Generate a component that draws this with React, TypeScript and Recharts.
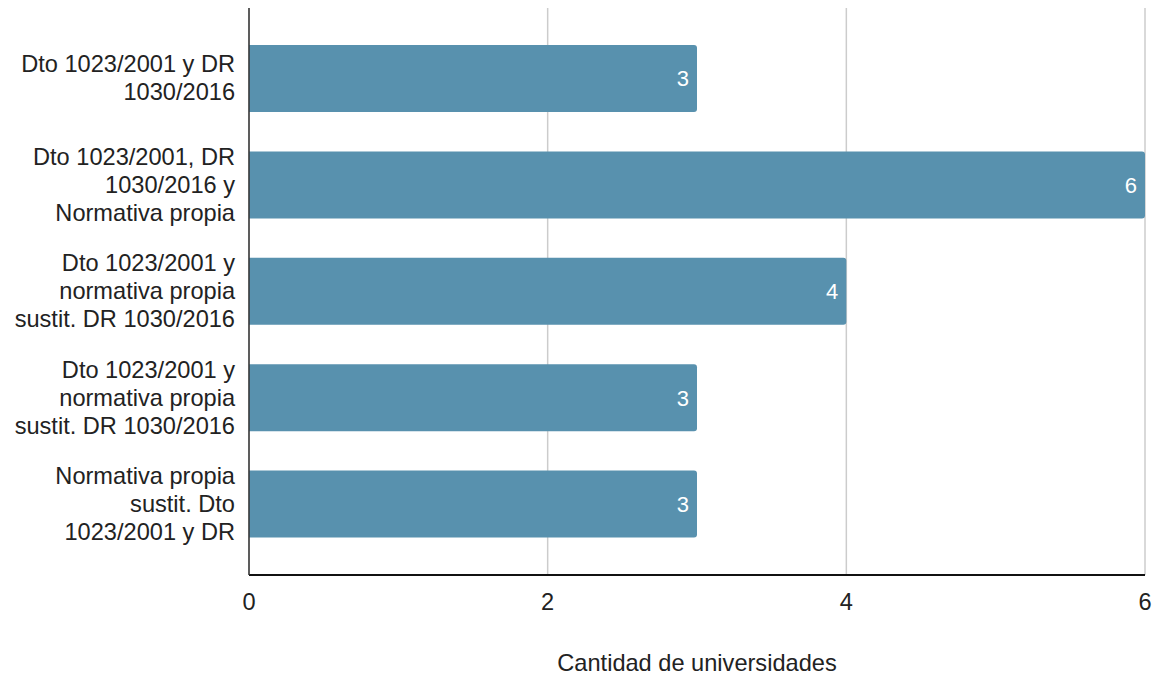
import { Bar, BarChart, CartesianGrid, LabelList, XAxis, YAxis } from "recharts";

const categories = [
  "Dto 1023/2001 y DR\n1030/2016",
  "Dto 1023/2001, DR\n1030/2016 y\nNormativa propia",
  "Dto 1023/2001 y\nnormativa propia\nsustit. DR 1030/2016",
  "Dto 1023/2001 y\nnormativa propia\nsustit. DR 1030/2016",
  "Normativa propia\nsustit. Dto\n1023/2001 y DR",
];
const universidades = [3, 6, 4, 3, 3];
const xTicks = [0, 2, 4, 6];

const data = categories.map((label, i) => ({ id: i, label, value: universidades[i] }));

const FONT = "'Liberation Sans', Arial, sans-serif";

function CategoryTick({ x, y, payload }: any) {
  const lines = categories[payload.value].split("\n");
  const lh = 28;
  const start = y - ((lines.length - 1) * lh) / 2;
  return (
    <text x={x} y={start} textAnchor="end" fill="#222" fontSize={23.6} fontFamily={FONT}>
      {lines.map((l, i) => (
        <tspan key={i} x={x} y={start + i * lh} dy="0.35em">
          {l}
        </tspan>
      ))}
    </text>
  );
}

export default function App() {
  return (
    <div style={{ position: "absolute", left: 0, top: 0, background: "#fff" }}>
      <BarChart
        width={1157}
        height={677}
        data={data}
        layout="vertical"
        margin={{ top: 8, right: 12, left: 0, bottom: 0 }}
      >
        <CartesianGrid horizontal={false} stroke="#cccccc" strokeWidth={1.5} />
        <XAxis
          type="number"
          domain={[0, 6]}
          ticks={xTicks}
          height={102}
          tickSize={0}
          tickMargin={18}
          tick={{ fill: "#222", fontSize: 23.6, fontFamily: FONT }}
          axisLine={{ stroke: "#111", strokeWidth: 2 }}
          tickLine={false}
          label={{
            value: "Cantidad de universidades",
            position: "insideBottom",
            offset: 6,
            fill: "#222",
            fontSize: 23.6,
            fontFamily: FONT,
          }}
        />
        <YAxis
          type="category"
          dataKey="id"
          width={249}
          padding={{ top: 17, bottom: 18 }}
          tickSize={0}
          tickMargin={14}
          tick={<CategoryTick />}
          axisLine={{ stroke: "#333", strokeWidth: 1.5 }}
          tickLine={false}
          interval={0}
        />
        <Bar dataKey="value" fill="#5891ae" barSize={67} radius={[0, 3, 3, 0]} isAnimationActive={false}>
          <LabelList
            dataKey="value"
            position="insideRight"
            offset={8}
            fill="#fff"
            fontSize={22}
            fontFamily={FONT}
          />
        </Bar>
      </BarChart>
    </div>
  );
}
